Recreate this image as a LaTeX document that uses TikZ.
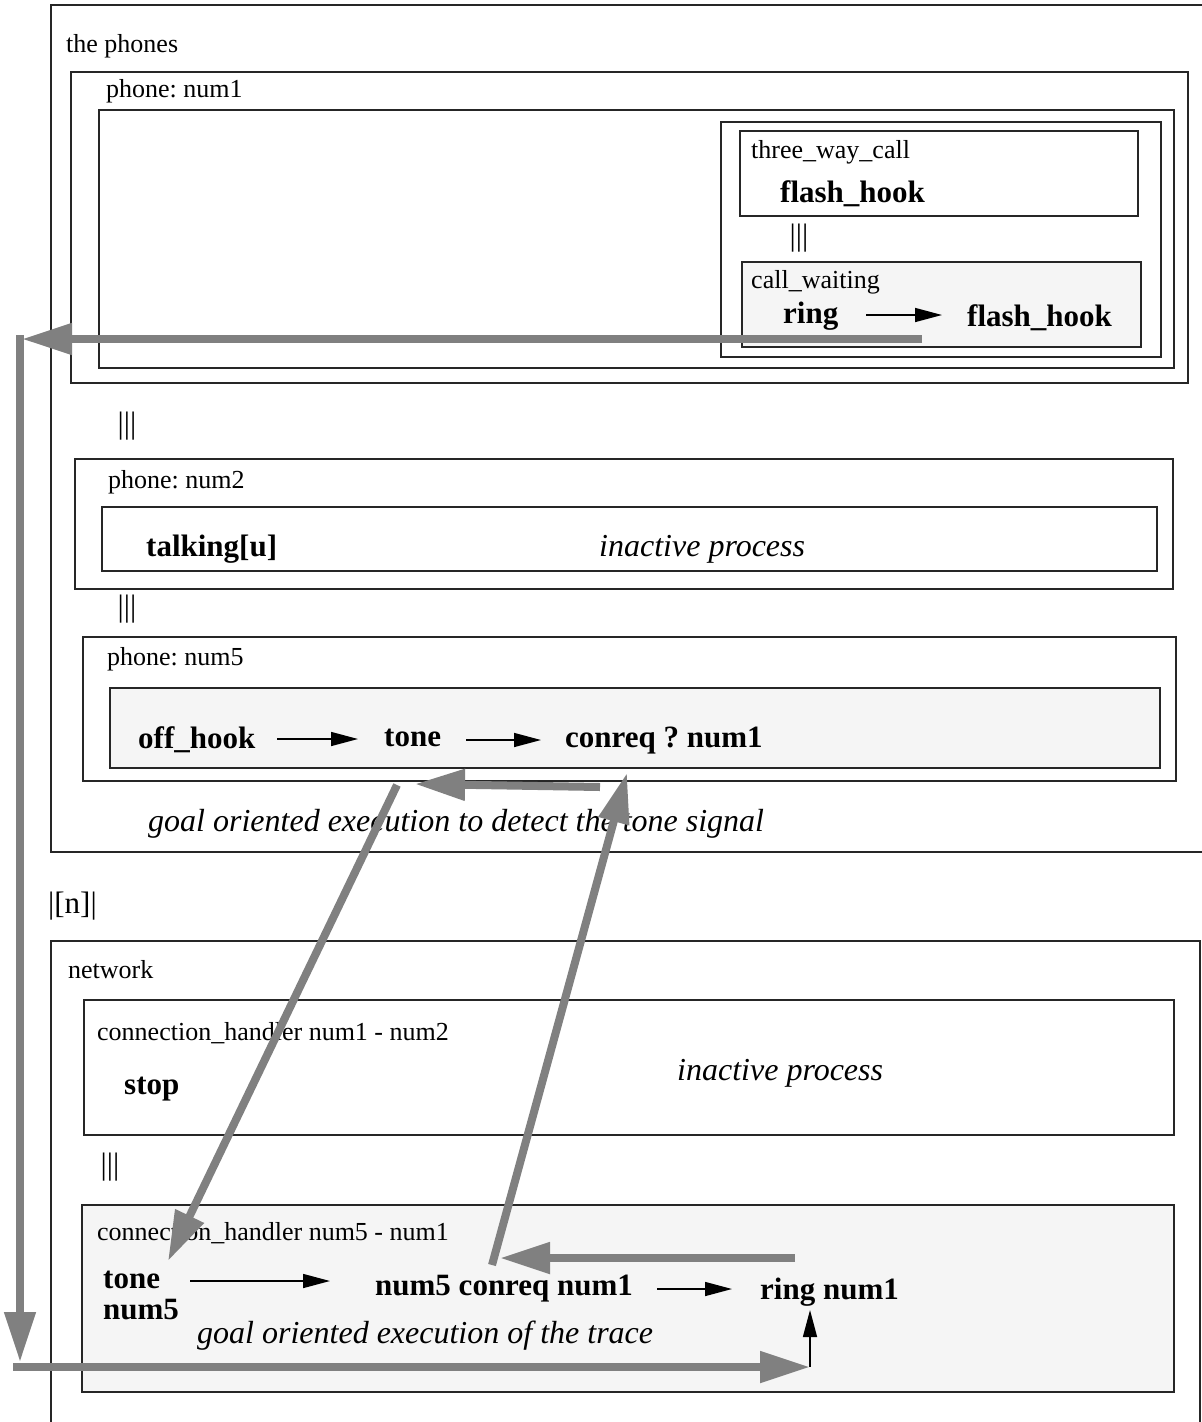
\documentclass[tikz,border=0pt]{standalone}
\usepackage{fontspec}
\setmainfont{Liberation Serif}
\usetikzlibrary{arrows.meta}
\frenchspacing

\tikzset{
  box/.style={draw=black!85, line width=1.4pt},
  shaded/.style={box, fill=black!4},
  lbl/.style={anchor=base west, inner sep=0pt, font=\fontsize{26}{30}\selectfont},
  bld/.style={anchor=base west, inner sep=0pt, font=\fontsize{31}{36}\selectfont\bfseries},
  itl/.style={anchor=base west, inner sep=0pt, font=\fontsize{32}{36}\selectfont\itshape},
  par/.style={anchor=center, inner sep=0pt, font=\fontsize{31}{34}\selectfont},
  flow/.style={draw=black, line width=1.5pt, -{Triangle[length=27pt, width=14pt]}},
  trace/.style={draw=black!50, line width=8pt, -{Triangle[length=50pt, width=30pt]}}
}

\begin{document}
\begin{tikzpicture}[x=1pt, y=-1pt]
\useasboundingbox (0,0) rectangle (1202,1422);
\clip (0,0) rectangle (1202,1422);
\fill[white] (0,0) rectangle (1202,1422);

% ---------------- the phones ----------------
\draw[box] (51,5) rectangle (1210,852);
\node[lbl] (phones) at (66,52) {the phones};

% phone num1
\draw[box] (71,72) rectangle (1188,383);
\node[lbl] (p1) at (106,97) {phone: num1};
\draw[box] (99,110) rectangle (1174,368);
\draw[box] (721,122) rectangle (1161,357);
\draw[box] (740,131) rectangle (1138,216);
\node[lbl] (twc) at (751,158) {three\_way\_call};
\node[bld] (fh1) at (780,202) {flash\_hook};
\node[par] (par1) at (799,238) {|||};
\draw[shaded] (742,262) rectangle (1141,347);
\node[lbl] (cw) at (751,288) {call\_waiting};
\node[bld] (ring1) at (783,323) {ring};
\node[bld] (fh2) at (967,326) {flash\_hook};
\coordinate (r1a) at (866,315);
\coordinate (r1b) at (942,315);
\draw[flow] (r1a) -- (r1b);

\node[par] (par2) at (127,426) {|||};

% phone num2
\draw[box] (75,459) rectangle (1173,589);
\node[lbl] (p2) at (108,488) {phone: num2};
\draw[box] (102,507) rectangle (1157,571);
\node[bld] (talk) at (146,556) {talking[u]};
\node[itl] (inact1) at (599,556) {inactive process};

\node[par] (par3) at (127,609) {|||};

% phone num5
\draw[box] (83,637) rectangle (1176,781);
\node[lbl] (p5) at (107,665) {phone: num5};
\draw[shaded] (110,688) rectangle (1160,768);
\node[bld] (offh) at (138,748) {off\_hook};
\node[bld] (tone1) at (384,746) {tone};
\node[bld] (conq) at (565,747) {conreq ? num1};
\coordinate (a1) at (277,739);
\coordinate (a2) at (358,739);
\coordinate (a3) at (466,740);
\coordinate (a4) at (541,740);
\draw[flow] (a1) -- (a2);
\draw[flow] (a3) -- (a4);
\node[itl] (goal1) at (148,831) {goal oriented execution to detect the tone signal};

\node[par, anchor=base west] (sync) at (48,913) {|[n]|};

% ---------------- network ----------------
\draw[box] (51,941) rectangle (1200,1440);
\node[lbl] (net) at (68,978) {network};

\draw[box] (84,1000) rectangle (1174,1135);
\node[lbl] (ch1) at (97,1040) {connection\_handler num1 - num2};
\node[bld] (stop) at (124,1094) {stop};
\node[itl] (inact2) at (677,1080) {inactive process};

\node[par] (par4) at (110,1167) {|||};

\draw[shaded] (82,1205) rectangle (1174,1392);
\node[lbl] (ch2) at (97,1240) {connection\_handler num5 - num1};
\node[bld] (tone2) at (103,1288) {tone};
\node[bld] (num5) at (103,1319) {num5};
\node[bld] (ncq) at (375,1295) {num5 conreq num1};
\node[bld] (rn1) at (760,1299) {ring num1};
\node[itl] (goal2) at (197,1343) {goal oriented execution of the trace};
\coordinate (b1) at (190,1281);
\coordinate (b2) at (330,1281);
\coordinate (b3) at (657,1289);
\coordinate (b4) at (732,1289);
\coordinate (b5) at (810,1367);
\coordinate (b6) at (810,1310);
\draw[flow] (b1) -- (b2);
\draw[flow] (b3) -- (b4);
\draw[flow] (b5) -- (b6);

% ---------------- trace arrows ----------------
\coordinate (t1) at (922,339);
\coordinate (t2) at (22,339);
\coordinate (t3) at (20,335);
\coordinate (t4) at (20,1362);
\coordinate (t5) at (13,1367);
\coordinate (t6) at (810,1367);
\draw[trace] (t1) -- (t2);
\draw[trace] (t3) -- (t4);
\draw[trace] (t5) -- (t6);

\coordinate (g1) at (397,785);
\coordinate (g2) at (168,1261);
\coordinate (g3) at (600,787);
\coordinate (g4) at (415,784);
\coordinate (g5) at (795,1258);
\coordinate (g6) at (500,1258);
\coordinate (g7) at (492,1265);
\coordinate (g8) at (627,773);
\draw[trace] (g1) -- (g2);
\draw[trace] (g3) -- (g4);
\draw[trace] (g5) -- (g6);
\draw[trace] (g7) -- (g8);
\end{tikzpicture}
\end{document}
